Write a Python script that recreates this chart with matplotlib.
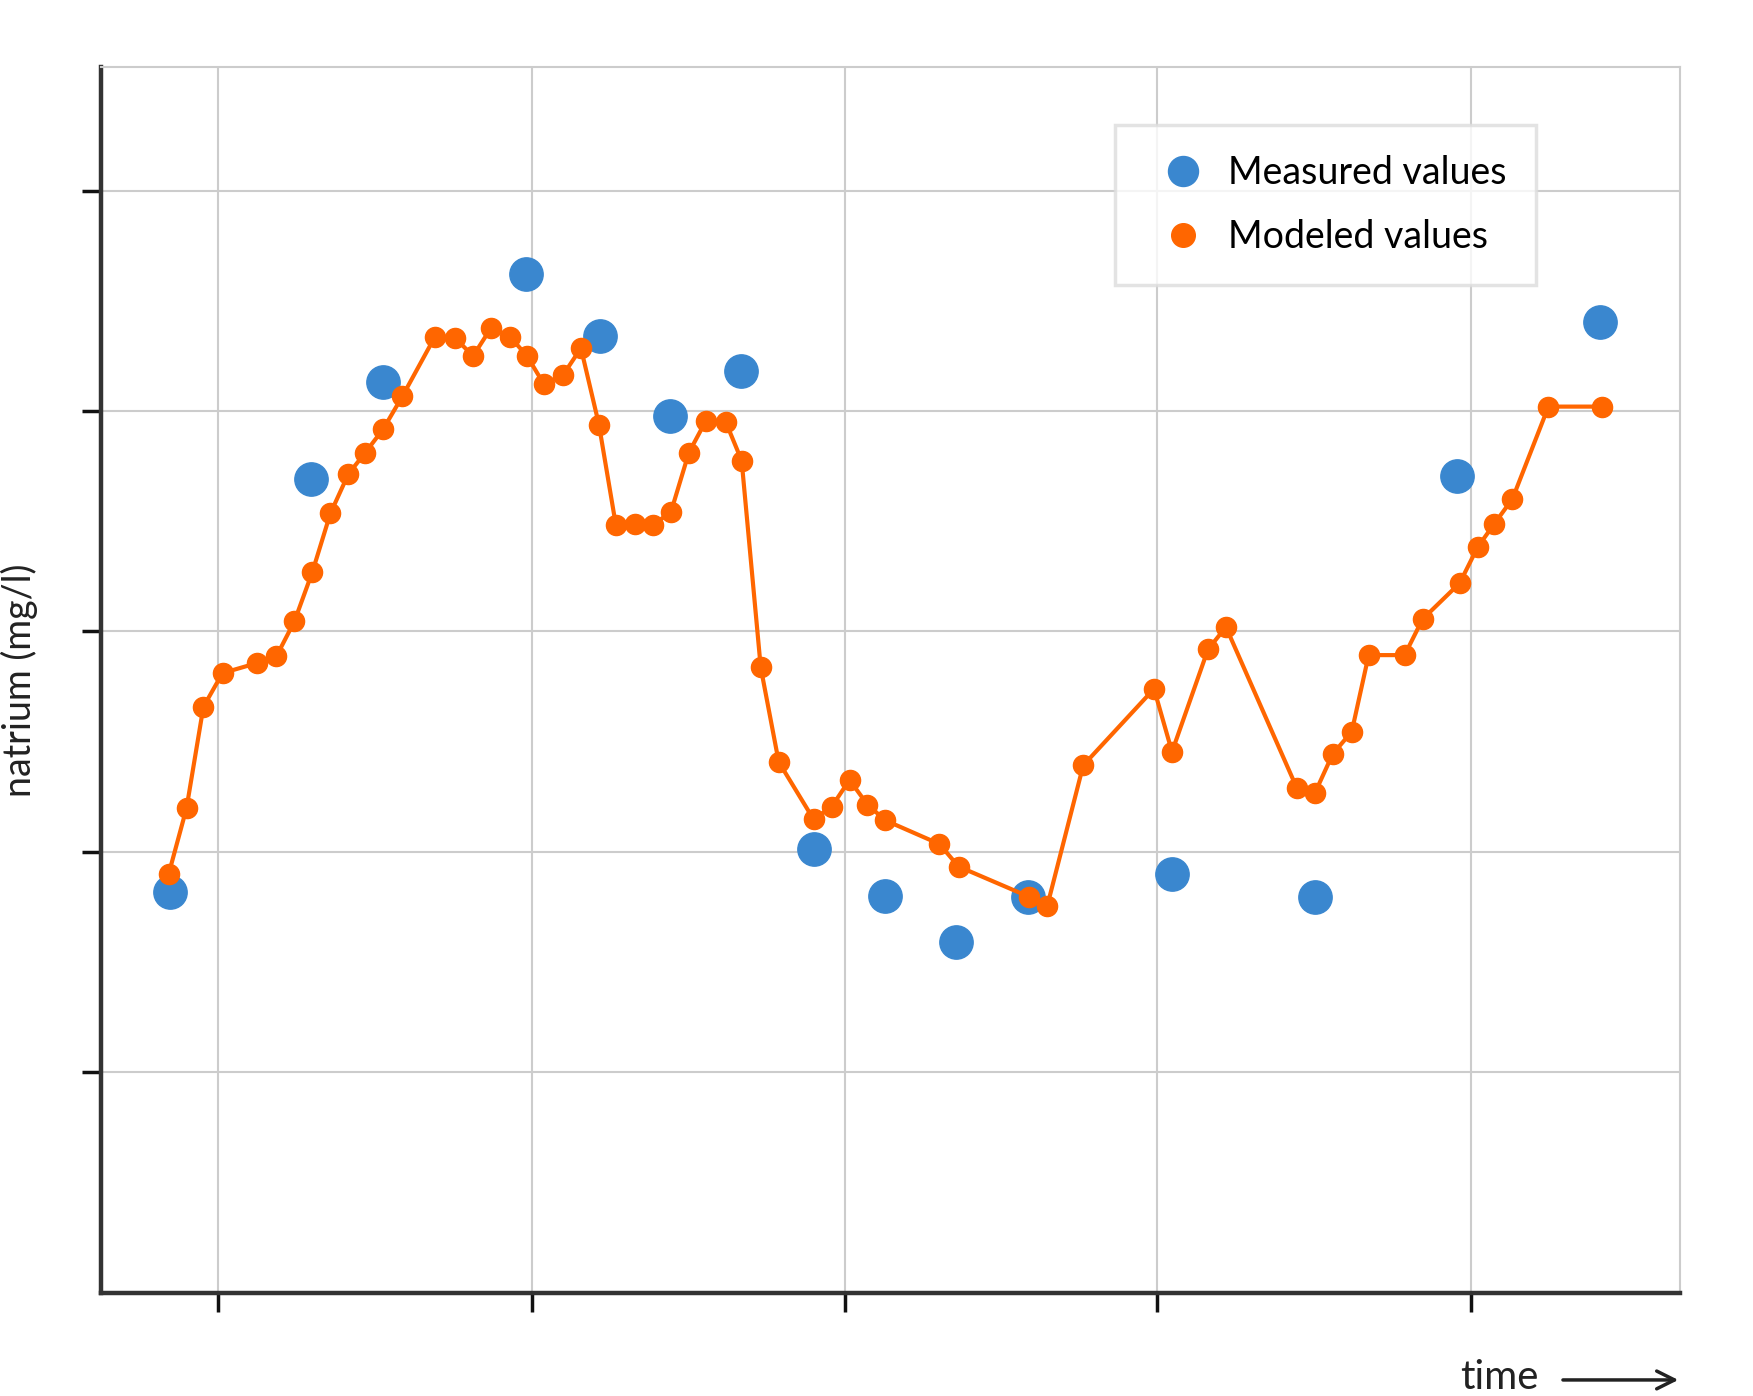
import matplotlib
matplotlib.use("Agg")
import matplotlib.pyplot as plt

plt.rcParams["font.family"] = "Lato"

model_x = [60,76,91,108,139,156,172,188,204,220,235,251,268,297,315,331,347,364,379,394,411,427,443,458,475,491,507,523,538,556,570,587,603,634,650,666,682,698,746,763,826,842,874,937,953,985,1001,1064,1080,1096,1113,1128,1160,1176,1209,1225,1240,1256,1288,1336]
model_y = [372,431,521,551,560,566,597,641,693,728,747,768,797,850,849,833,858,850,833,808,816,840,772,683,684,683,694,747,775,774,740,556,472,421,432,456,434,420,399,379,352,344,469,537,481,572,592,449,444,479,499,567,567,599,631,663,684,706,788,788]
meas_x = [61,187,251,378,444,506,569,634,698,761,825,953,1080,1207,1334]
meas_y = [356,724,810,906,851,780,820,395,353,312,352,372,352,726,863]
x_ticks = [104,383,662,940,1219]
y_ticks = [196,392,588,784,980]

fig = plt.figure(figsize=(17.53,13.96), dpi=100)
ax = fig.add_axes([0.0577,0.074,0.9006,0.878])
ax.set_xlim(0,1405)
ax.set_ylim(0,1090)
ax.plot(model_x, model_y, color="#ff6600", lw=3, marker="o", ms=14.5,
        zorder=3, label="Modeled values")
ax.plot(meas_x, meas_y, ls="none", marker="o", ms=24, color="#3a87cf",
        zorder=2, label="Measured values")
ax.set_xticks(x_ticks); ax.set_yticks(y_ticks)
ax.set_xticklabels([]); ax.set_yticklabels([])
ax.grid(True, color="#cccccc", lw=1.5)
ax.set_axisbelow(True)
ax.tick_params(length=14, width=2.5, color="#111111", direction="out")
for s in ["left","bottom"]:
    ax.spines[s].set_color("#333333"); ax.spines[s].set_linewidth(3.2)
for s in ["top","right"]:
    ax.spines[s].set_color("#cccccc"); ax.spines[s].set_linewidth(1.5)
h, l = ax.get_legend_handles_labels()
leg = ax.legend([h[1], h[0]], [l[1], l[0]], loc="upper right",
                bbox_to_anchor=(0.921, 0.968), fontsize=27, frameon=True,
                fancybox=False, edgecolor="#dddddd", borderpad=0.8,
                labelspacing=0.75, handletextpad=0.2, markerscale=0.9)
leg.get_frame().set_linewidth(2.5)
for hh in leg.legend_handles:
    hh.set_linestyle("none")
leg.legend_handles[1].set_markersize(17)
ax.set_ylabel("natrium (mg/l)", fontsize=27, color="#222222", labelpad=28)
fig.text(0.833, 0.0, "time", fontsize=29, color="#222222", ha="left", va="bottom")
ax.annotate("", xy=(0.959, 0.0115), xytext=(0.89, 0.0115), xycoords="figure fraction",
            arrowprops=dict(arrowstyle="->", color="#222222", lw=2.5, mutation_scale=32))
fig.savefig("out.png", dpi=100)
